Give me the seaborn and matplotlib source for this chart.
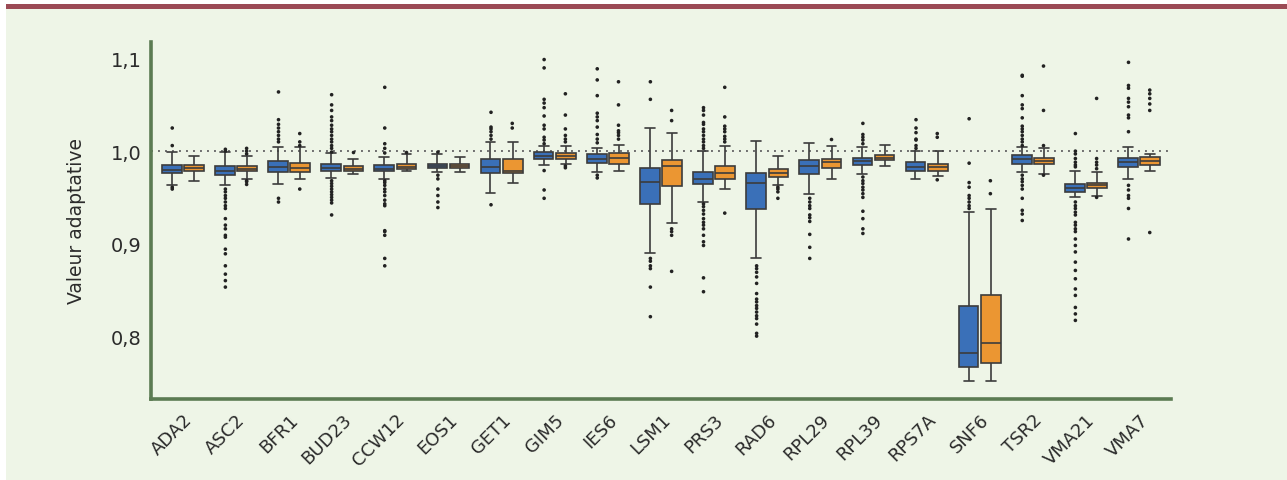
"""
Boxplots of adaptive value per gene, two conditions (blue / orange).
Box statistics and outliers read off the published figure.
"""

import matplotlib
matplotlib.use("Agg")
import matplotlib.pyplot as plt
from matplotlib.patches import Rectangle
import pandas as pd
import seaborn as sns

# ── Data ──
genes = ["ADA2", "ASC2", "BFR1", "BUD23", "CCW12", "EOS1", "GET1", "GIM5", "IES6",
         "LSM1", "PRS3", "RAD6", "RPL29", "RPL39", "RPS7A", "SNF6", "TSR2", "VMA21", "VMA7"]
groups = ["bleu", "orange"]

# five-number summaries (whisker low, q1, median, q3, whisker high)
blue_low = [0.963, 0.963, 0.964, 0.971, 0.970, 0.977, 0.955, 0.985, 0.977, 0.890,
            0.945, 0.884, 0.954, 0.975, 0.970, 0.751, 0.977, 0.950, 0.970]
blue_q1 = [0.976, 0.974, 0.977, 0.979, 0.978, 0.982, 0.976, 0.992, 0.987, 0.943,
           0.964, 0.937, 0.975, 0.985, 0.978, 0.7665, 0.986, 0.956, 0.983]
blue_med = [0.980, 0.978, 0.983, 0.982, 0.981, 0.984, 0.983, 0.995, 0.992, 0.967,
            0.970, 0.966, 0.984, 0.989, 0.983, 0.782, 0.991, 0.960, 0.988]
blue_q3 = [0.985, 0.984, 0.989, 0.986, 0.985, 0.986, 0.991, 0.999, 0.997, 0.982,
           0.977, 0.976, 0.990, 0.993, 0.988, 0.833, 0.996, 0.964, 0.993]
blue_high = [0.999, 0.999, 1.004, 0.998, 0.994, 0.997, 1.010, 1.006, 1.003, 1.025,
             1.000, 1.011, 1.009, 1.004, 1.000, 0.934, 1.004, 0.978, 1.004]

orange_low = [0.968, 0.970, 0.970, 0.975, 0.978, 0.977, 0.966, 0.986, 0.978, 0.922,
              0.959, 0.963, 0.970, 0.984, 0.973, 0.752, 0.975, 0.952, 0.979]
orange_q1 = [0.978, 0.979, 0.977, 0.979, 0.981, 0.982, 0.976, 0.992, 0.986, 0.962,
             0.970, 0.972, 0.982, 0.990, 0.979, 0.771, 0.986, 0.960, 0.985]
orange_med = [0.982, 0.981, 0.982, 0.981, 0.983, 0.984, 0.979, 0.995, 0.993, 0.984,
              0.976, 0.976, 0.988, 0.993, 0.983, 0.793, 0.989, 0.963, 0.989]
orange_q3 = [0.985, 0.984, 0.987, 0.984, 0.986, 0.986, 0.991, 0.998, 0.998, 0.990,
             0.984, 0.981, 0.992, 0.996, 0.986, 0.844, 0.993, 0.966, 0.994]
orange_high = [0.995, 0.995, 1.004, 0.992, 0.997, 0.994, 1.010, 1.006, 1.007, 1.020,
               1.006, 0.995, 1.006, 1.007, 1.000, 0.937, 1.003, 0.977, 0.997]

blue_outliers = [
    [1.025, 1.006, 0.961, 0.959],
    [1.002, 1.000, 0.959, 0.956, 0.952, 0.949, 0.945, 0.941, 0.938, 0.927, 0.920,
     0.916, 0.909, 0.907, 0.894, 0.889, 0.876, 0.867, 0.860, 0.853],
    [1.064, 1.034, 1.029, 1.025, 1.021, 1.017, 1.013, 1.010, 0.949, 0.945],
    [1.061, 1.050, 1.044, 1.037, 1.033, 1.028, 1.024, 1.021, 1.017, 1.013, 1.010,
     1.006, 1.003, 0.999, 0.968, 0.965, 0.962, 0.959, 0.956, 0.953, 0.950, 0.947,
     0.944, 0.931],
    [1.069, 1.025, 1.008, 1.003, 0.998, 0.968, 0.966, 0.963, 0.959, 0.956, 0.952,
     0.947, 0.943, 0.941, 0.914, 0.913, 0.909, 0.884, 0.876],
    [0.999, 0.974, 0.970, 0.959, 0.952, 0.945, 0.939],
    [1.042, 1.026, 1.024, 1.021, 1.017, 1.013, 0.942],
    [1.099, 1.090, 1.056, 1.052, 1.047, 1.038, 1.028, 1.024, 1.015, 1.012, 1.008,
     0.979, 0.958, 0.949],
    [1.089, 1.077, 1.060, 1.041, 1.037, 1.033, 1.026, 1.018, 1.013, 1.009, 0.974, 0.971],
    [1.075, 1.056, 0.884, 0.881, 0.876, 0.873, 0.853, 0.821],
    [1.047, 1.044, 1.039, 1.031, 1.029, 1.024, 1.021, 1.017, 1.013, 1.010, 1.006,
     1.003, 0.943, 0.940, 0.936, 0.932, 0.927, 0.923, 0.920, 0.916, 0.909, 0.902,
     0.898, 0.863, 0.848],
    [0.876, 0.873, 0.869, 0.864, 0.857, 0.846, 0.840, 0.837, 0.833, 0.830, 0.826,
     0.822, 0.819, 0.813, 0.803, 0.800],
    [0.949, 0.945, 0.941, 0.938, 0.931, 0.928, 0.924, 0.910, 0.896, 0.884],
    [1.030, 1.018, 1.015, 1.012, 1.008, 0.972, 0.968, 0.965, 0.961, 0.958, 0.954,
     0.950, 0.935, 0.927, 0.916, 0.911],
    [1.034, 1.025, 1.020, 1.013, 1.012, 1.006, 1.003],
    [1.035, 0.987, 0.966, 0.961, 0.952, 0.949, 0.945, 0.941, 0.938],
    [1.082, 1.081, 1.060, 1.050, 1.046, 1.036, 1.027, 1.024, 1.021, 1.017, 1.013,
     1.010, 1.006, 0.974, 0.970, 0.967, 0.963, 0.959, 0.949, 0.936, 0.932, 0.925],
    [1.019, 1.000, 0.997, 0.992, 0.988, 0.985, 0.983, 0.945, 0.941, 0.938, 0.934,
     0.931, 0.923, 0.920, 0.916, 0.913, 0.905, 0.898, 0.891, 0.880, 0.871, 0.862,
     0.851, 0.844, 0.831, 0.824, 0.817],
    [1.096, 1.071, 1.068, 1.057, 1.053, 1.048, 1.039, 1.036, 1.021, 0.963, 0.958,
     0.952, 0.949, 0.938, 0.905],
]
orange_outliers = [
    [],
    [1.003, 1.000, 0.997, 0.968, 0.967, 0.964],
    [1.019, 1.010, 1.006, 0.959],
    [0.999],
    [0.999],
    [],
    [1.030, 1.025],
    [1.062, 1.039, 1.024, 1.017, 1.013, 1.010, 0.984, 0.982],
    [1.075, 1.050, 1.028, 1.022, 1.020, 1.017, 1.013],
    [1.044, 1.033, 0.916, 0.913, 0.909, 0.870],
    [1.069, 1.037, 1.027, 1.024, 1.021, 1.016, 1.013, 1.010, 0.933],
    [0.961, 0.959, 0.956, 0.949],
    [1.013],
    [],
    [1.019, 1.015, 0.969],
    [0.968, 0.954],
    [1.092, 1.044, 1.006, 0.974],
    [1.057, 0.992, 0.988, 0.985, 0.981, 0.950],
    [1.066, 1.062, 1.057, 1.051, 1.044, 0.912],
]

# ── Long tables for seaborn ──
stats = {
    "bleu": [blue_low, blue_q1, blue_med, blue_q3, blue_high],
    "orange": [orange_low, orange_q1, orange_med, orange_q3, orange_high],
}
rows = []
for grp, arrays in stats.items():
    for i, g in enumerate(genes):
        for arr in arrays:
            rows.append({"gene": g, "groupe": grp, "valeur": arr[i]})
df_box = pd.DataFrame(rows)

rows = []
for grp, outs in [("bleu", blue_outliers), ("orange", orange_outliers)]:
    for g, vals in zip(genes, outs):
        for v in vals:
            rows.append({"gene": g, "groupe": grp, "valeur": v})
df_out = pd.DataFrame(rows)

# ── Style ──
BG = "#eef5e7"
GREEN = "#5b7b52"
sns.set_style("white")
plt.rcParams["font.family"] = ["DejaVu Sans"]

fig = plt.figure(figsize=(12.87, 4.81), dpi=100)
fig.patch.set_facecolor("white")
fig.patches.append(Rectangle((6 / 1287, 0), 1 - 6 / 1287, 1 - 10 / 481,
                             transform=fig.transFigure, facecolor=BG,
                             edgecolor="none", zorder=-2))
fig.patches.append(Rectangle((6 / 1287, 1 - 10 / 481), 1 - 6 / 1287, 5 / 481,
                             transform=fig.transFigure, facecolor="#9b4a55",
                             edgecolor="none", zorder=-1))

ax = fig.add_axes([151 / 1287, 1 - 400 / 481, 1020 / 1287, 357 / 481])
ax.set_facecolor("none")

ax.axhline(1.0, color="#6e6e6e", lw=1.4, ls=(0, (1, 2.6)), zorder=0)

sns.boxplot(
    data=df_box, x="gene", y="valeur", hue="groupe",
    order=genes, hue_order=groups,
    palette={"bleu": "#3a70b8", "orange": "#eb9632"}, saturation=1,
    whis=(0, 100), showfliers=False, width=0.84, gap=0.12,
    linecolor="#3c3c3c", linewidth=1.2, legend=False, ax=ax,
)
sns.stripplot(
    data=df_out, x="gene", y="valeur", hue="groupe",
    order=genes, hue_order=groups,
    palette={"bleu": "#222222", "orange": "#222222"},
    dodge=True, jitter=False, size=2.6, linewidth=0,
    legend=False, ax=ax,
)

ax.set_xlim(-0.6, 18.6)
ax.set_ylim(0.732, 1.118)
ax.set_yticks([0.8, 0.9, 1.0, 1.1])
ax.set_yticklabels(["0,8", "0,9", "1,0", "1,1"])
ax.set_xticks(range(len(genes)))
ax.set_xticklabels(genes, rotation=45, ha="right", rotation_mode="anchor")

for side in ["top", "right"]:
    ax.spines[side].set_visible(False)
for side in ["left", "bottom"]:
    ax.spines[side].set_color(GREEN)
    ax.spines[side].set_linewidth(2.6)

ax.tick_params(axis="both", colors=GREEN, length=4, width=2, labelcolor="#2b2b2b")
ax.tick_params(axis="y", labelsize=14, pad=3)
ax.tick_params(axis="x", labelsize=13, pad=4)

ax.set_xlabel("")
ax.set_ylabel("Valeur adaptative", fontsize=13.5, color="#2b2b2b")
ax.yaxis.set_label_coords(-0.064, 0.5)

plt.savefig("out.png", dpi=100, facecolor=fig.get_facecolor())
plt.close()
